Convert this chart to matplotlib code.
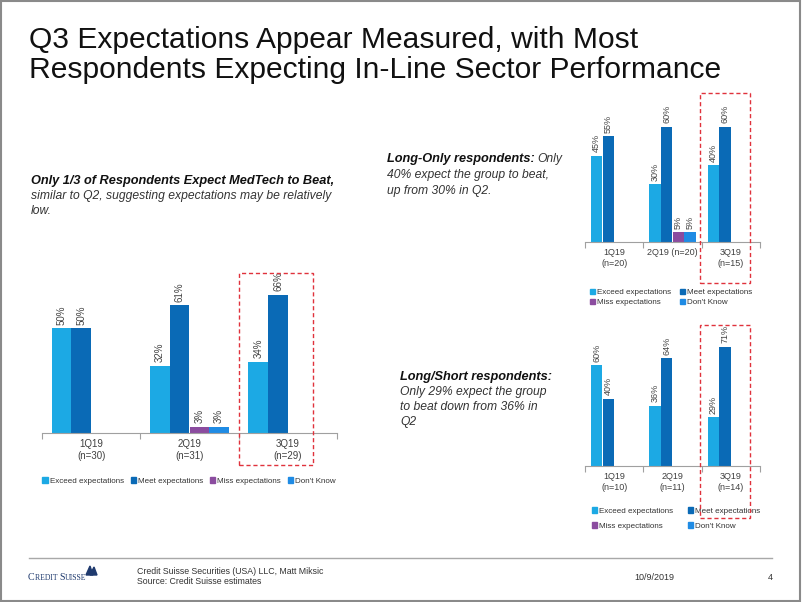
import matplotlib
matplotlib.use('Agg')
import matplotlib.pyplot as plt
import numpy as np
from matplotlib.patches import Rectangle, Polygon
from matplotlib.lines import Line2D

W, H = 802, 602
plt.rcParams['font.family'] = ['Liberation Sans', 'DejaVu Sans']

nan = np.nan
series = ['Exceed expectations', 'Meet expectations', 'Miss expectations', "Don't Know"]
colors = ['#1CA9E4', '#0A6AB6', '#8B4C9F', '#1F8BE4']

all_cats = ['1Q19\n(n=30)', '2Q19\n(n=31)', '3Q19\n(n=29)']
all_exceed = [50, 32, 34]
all_meet = [50, 61, 66]
all_miss = [nan, 3, nan]
all_dk = [nan, 3, nan]

lo_cats = ['1Q19\n(n=20)', '2Q19 (n=20)', '3Q19\n(n=15)']
lo_exceed = [45, 30, 40]
lo_meet = [55, 60, 60]
lo_miss = [nan, 5, nan]
lo_dk = [nan, 5, nan]

ls_cats = ['1Q19\n(n=10)', '2Q19\n(n=11)', '3Q19\n(n=14)']
ls_exceed = [60, 36, 29]
ls_meet = [40, 64, 71]
ls_miss = [nan, nan, nan]
ls_dk = [nan, nan, nan]

fig = plt.figure(figsize=(W / 100, H / 100), dpi=100)
fig.patch.set_facecolor('white')


def fx(x):
    return x / W


def fy(y):
    return 1 - y / H


def add_ax(l, r, base, top):
    return fig.add_axes([fx(l), fy(base), (r - l) / W, (base - top) / H])


def draw(ax, cats, data, ymax, fs_lab, fs_tick, pad):
    x = np.arange(len(cats))
    w = 0.2
    for i, vals in enumerate(data):
        off = (i - 1.5) * w
        vals = np.array(vals, dtype=float)
        ax.bar(x + off, vals, w, color=colors[i], label=series[i])
        for xi, v in zip(x, vals):
            if not np.isnan(v):
                ax.annotate(f'{v:.0f}%', (xi + off, v), xytext=(0, 2.5),
                            textcoords='offset points', rotation=90,
                            ha='center', va='bottom', fontsize=fs_lab, color='#444444')
    ax.set_xlim(-0.5, len(cats) - 0.5)
    ax.set_ylim(0, ymax)
    for s in ['top', 'left', 'right']:
        ax.spines[s].set_visible(False)
    ax.spines['bottom'].set_color('#A0A0A0')
    ax.spines['bottom'].set_linewidth(0.8)
    ax.set_yticks([])
    ax.set_xticks(x, cats)
    for lab in ax.get_xticklabels():
        lab.set_linespacing(1.3)
    ax.set_xticks(np.arange(len(cats) + 1) - 0.5, minor=True)
    ax.tick_params(axis='x', which='major', length=0, labelsize=fs_tick,
                   labelcolor='#404040', pad=pad)
    ax.tick_params(axis='x', which='minor', length=4, color='#A0A0A0', width=0.8)
    ax.set_facecolor('none')


def handles():
    return [Rectangle((0, 0), 1, 1, color=c) for c in colors]


# border
fig.add_artist(Rectangle((0.001, 0.002), 0.997, 0.996, transform=fig.transFigure,
                         fill=False, edgecolor='#8A8A8A', linewidth=1.5))

# title
fig.text(fx(29), fy(40), 'Q3 Expectations Appear Measured, with Most',
         fontsize=21.6, color='#111111', va='center', ha='left')
fig.text(fx(29), fy(70), 'Respondents Expecting In-Line Sector Performance',
         fontsize=21.6, color='#111111', va='center', ha='left')

leg_fs = 5.8
# main chart
ax1 = add_ax(42, 337, 433, 261)
draw(ax1, all_cats, [all_exceed, all_meet, all_miss, all_dk], 82, 7, 7, 4)
h = handles()
ax1.legend(h, series, loc='center', bbox_to_anchor=(fx(189), fy(481)),
           bbox_transform=fig.transFigure, ncol=4, frameon=False, fontsize=leg_fs,
           handlelength=0.65, handleheight=0.65, handletextpad=0.25, columnspacing=0.85,
           labelcolor='#333333')

# long-only chart
ax2 = add_ax(585, 760, 242, 90)
draw(ax2, lo_cats, [lo_exceed, lo_meet, lo_miss, lo_dk], (242 - 90) / 1.92, 6.5, 6.5, 4)
order = [0, 2, 1, 3]
ax2.legend([h[i] for i in order], [series[i] for i in order], loc='center',
           bbox_to_anchor=(fx(671), fy(297.5)), bbox_transform=fig.transFigure,
           ncol=2, frameon=False, fontsize=leg_fs, handlelength=0.65, handleheight=0.65,
           handletextpad=0.25, columnspacing=1.1, labelspacing=0.3, labelcolor='#333333')

# long/short chart
ax3 = add_ax(585, 760, 466, 325)
draw(ax3, ls_cats, [ls_exceed, ls_meet, ls_miss, ls_dk], (466 - 325) / 1.68, 6.5, 6.5, 4)
ax3.legend([h[i] for i in order], [series[i] for i in order], loc='center',
           bbox_to_anchor=(fx(676), fy(518.5)), bbox_transform=fig.transFigure,
           ncol=2, frameon=False, fontsize=leg_fs, handlelength=0.65, handleheight=0.65,
           handletextpad=0.25, columnspacing=1.85, labelspacing=0.9, labelcolor='#333333')

# red dashed highlight boxes
for (l, t, r, b) in [(239, 273, 313, 465), (700, 93, 750, 283), (700, 325, 750, 518)]:
    fig.add_artist(Rectangle((fx(l), fy(b)), (r - l) / W, (b - t) / H,
                             transform=fig.transFigure, fill=False,
                             edgecolor='#E0323C', linewidth=1.0, linestyle=(0, (3, 2))))

fig.canvas.draw()
rend = fig.canvas.get_renderer()


def mixed(x, y, bold, rest, fsb, fsr):
    t = fig.text(fx(x), fy(y), bold, fontsize=fsb, fontweight='bold', style='italic',
                 color='#111111', va='center', ha='left')
    if rest:
        bb = t.get_window_extent(rend)
        fig.text(bb.x1 / W + 3 / W, fy(y), rest, fontsize=fsr, style='italic',
                 color='#333333', va='center', ha='left')


def plain(x, y, s, fs):
    fig.text(fx(x), fy(y), s, fontsize=fs, style='italic', color='#333333',
             va='center', ha='left')


fsb, fsr = 9.2, 8.7
mixed(31, 181, 'Only 1/3 of Respondents Expect MedTech to Beat,', '', fsb, fsr)
plain(31, 196, 'similar to Q2, suggesting expectations may be relatively', fsr)
plain(31, 211, 'low.', fsr)

mixed(387, 159, 'Long-Only respondents:', 'Only', fsb, fsr)
plain(387, 175, '40% expect the group to beat,', fsr)
plain(387, 191, 'up from 30% in Q2.', fsr)

mixed(400, 377, 'Long/Short respondents:', '', fsb, fsr)
plain(400, 392, 'Only 29% expect the group', fsr)
plain(400, 407, 'to beat down from 36% in', fsr)
plain(400, 422, 'Q2', fsr)

# footer
fig.add_artist(Line2D([fx(29), fx(772)], [fy(558), fy(558)], transform=fig.transFigure,
                      color='#A8A8A8', linewidth=1.0))
x0 = 28
for s, f in [('C', 7.2), ('REDIT ', 5.6), ('S', 7.2), ('UISSE', 5.6)]:
    t = fig.text(fx(x0), fy(580), s, fontsize=f, family=['Liberation Serif'],
                 color='#1F3A6E', va='baseline', ha='left')
    x0 = t.get_window_extent(rend).x1
fig.add_artist(Polygon([[fx(86), fy(575)], [fx(90), fy(566)], [fx(93), fy(575)]],
                       closed=True, transform=fig.transFigure, color='#1F3A6E'))
fig.add_artist(Polygon([[fx(90), fy(575)], [fx(94), fy(567)], [fx(97), fy(575)]],
                       closed=True, transform=fig.transFigure, color='#1F3A6E'))
fig.text(fx(137), fy(571), 'Credit Suisse Securities (USA) LLC, Matt Miksic', fontsize=6.3,
         color='#333333', va='center', ha='left')
fig.text(fx(137), fy(582), 'Source: Credit Suisse estimates', fontsize=6.3,
         color='#333333', va='center', ha='left')
fig.text(fx(634), fy(577), '10/9/2019', fontsize=6.5, color='#333333', va='center', ha='left')
fig.text(fx(768), fy(577), '4', fontsize=6.5, color='#333333', va='center', ha='left')

fig.savefig('out.png', dpi=100, facecolor='white')
